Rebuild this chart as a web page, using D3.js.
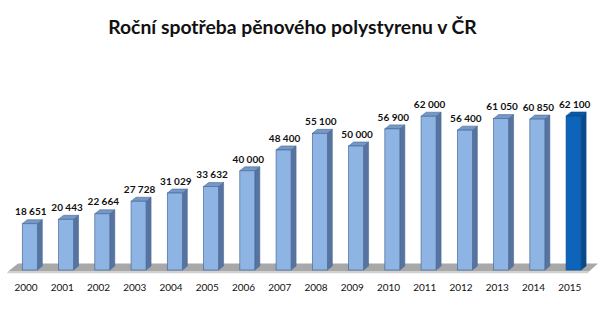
<!DOCTYPE html>
<html>
<head>
<meta charset="utf-8">
<script src="https://cdn.jsdelivr.net/npm/d3@7/dist/d3.min.js"></script>
<style>
  html, body { margin: 0; padding: 0; background: #fff; }
  svg { display: block; }
  text { font-family: Lato, "Open Sans", sans-serif; }
</style>
</head>
<body>
<svg id="chart" width="600" height="322"></svg>
<script>
// Annual consumption of expanded polystyrene in the Czech Republic (tonnes)
const years = ["2000","2001","2002","2003","2004","2005","2006","2007",
               "2008","2009","2010","2011","2012","2013","2014","2015"];
const values = [18651, 20443, 22664, 27728, 31029, 33632, 40000, 48400,
                55100, 50000, 56900, 62000, 56400, 61050, 60850, 62100];
const valueLabels = ["18 651","20 443","22 664","27 728","31 029","33 632","40 000","48 400",
                     "55 100","50 000","56 900","62 000","56 400","61 050","60 850","62 100"];
const highlightYear = "2015";
const titleText = "Roční spotřeba pěnového polystyrenu v ČR";

const svg = d3.select("#chart");
const W = 600, H = 322;

const barW = 15, depthX = 5, depthY = 4;
const baseY = 270;

const x = d3.scalePoint().domain(years).range([29.8, 573.6]);
const y = d3.scaleLinear().domain([0, 70000]).range([baseY, baseY - 173.6]);

// Floor slab
const floorTop = 263.5, floorBottom = 271.5;
svg.append("path")
  .attr("d", `M18,${floorTop} L598,${floorTop} L589,${floorBottom} L8,${floorBottom} Z`)
  .attr("fill", "#a8a8a8");
svg.append("path")
  .attr("d", `M8,${floorBottom} L589,${floorBottom} L588,${floorBottom + 1.8} L7,${floorBottom + 1.8} Z`)
  .attr("fill", "#d0d0d0");

const data = years.map((yr, i) => ({ year: yr, value: values[i], label: valueLabels[i] }));

const pal = d => d.year === highlightYear
  ? { front: "#0d64b8", side: "#0a4a88", top: "#0b58a3", stroke: "#0a4d8f" }
  : { front: "#8eb4e3", side: "#56749f", top: "#7598c6", stroke: "#4a6a98" };

const bars = svg.append("g").selectAll("g").data(data).join("g");

bars.each(function(d) {
  const g = d3.select(this);
  const c = pal(d);
  const x0 = x(d.year) - barW / 2, x1 = x0 + barW;
  const yt = y(d.value);
  // side face
  g.append("path")
    .attr("d", `M${x1},${baseY} L${x1},${yt} L${x1 + depthX},${yt - depthY} L${x1 + depthX},${baseY - depthY} Z`)
    .attr("fill", c.side).attr("stroke", c.stroke).attr("stroke-width", 0.6);
  // top face
  g.append("path")
    .attr("d", `M${x0},${yt} L${x0 + depthX},${yt - depthY} L${x1 + depthX},${yt - depthY} L${x1},${yt} Z`)
    .attr("fill", c.top).attr("stroke", c.stroke).attr("stroke-width", 0.6);
  // front face
  g.append("rect")
    .attr("x", x0).attr("y", yt).attr("width", barW).attr("height", baseY - yt)
    .attr("fill", c.front).attr("stroke", c.stroke).attr("stroke-width", 0.7);
});

// Value labels
svg.append("g").selectAll("text").data(data).join("text")
  .attr("x", d => x(d.year) + 1)
  .attr("y", d => y(d.value) - 8.3)
  .attr("text-anchor", "middle")
  .attr("font-size", 10)
  .attr("font-weight", "bold")
  .attr("fill", "#111")
  .text(d => d.label);

// Category axis labels
const xAxis = d3.axisBottom(x.copy().range([25.5, 569.3])).tickSize(0).tickPadding(0);
const axisG = svg.append("g").attr("transform", `translate(0,${282})`).call(xAxis);
axisG.select(".domain").remove();
axisG.selectAll("text")
  .attr("font-family", "Lato, sans-serif")
  .attr("font-size", 10)
  .attr("fill", "#111")
  .attr("dy", 0).attr("y", 8.7);

// Title
const title = svg.append("text")
  .attr("x", 292.5).attr("y", 34)
  .attr("text-anchor", "middle")
  .attr("font-weight", "bold")
  .attr("font-size", 18)
  .attr("fill", "#111")
  .text(titleText);
const tw = title.node().getComputedTextLength();
title.attr("font-size", 18 * 369 / tw);
</script>
</body>
</html>
